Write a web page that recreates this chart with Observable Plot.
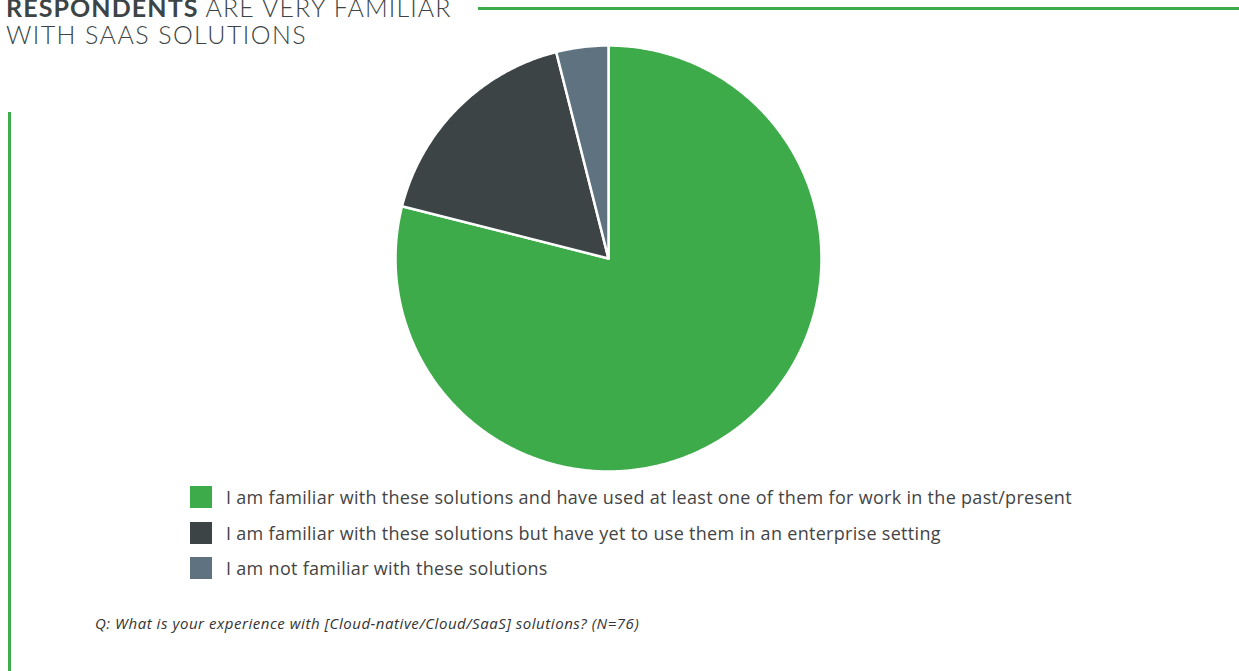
<!DOCTYPE html>
<html>
<head>
<meta charset="utf-8">
<script src="https://cdn.jsdelivr.net/npm/d3@7"></script>
<script src="https://cdn.jsdelivr.net/npm/@observablehq/plot@0.6"></script>
<style>
  html, body { margin: 0; padding: 0; background: #fff; width: 1239px; height: 671px; overflow: hidden; position: relative; }
  #title { position: absolute; left: 6px; top: -6px; font-family: Lato, sans-serif; font-size: 25px; line-height: 27px; color: #3c4446; font-weight: 300; letter-spacing: 1.1px; white-space: nowrap; }
  #title b { font-weight: 700; }
  #title .l2 { letter-spacing: 1.4px; }
  #topline { position: absolute; left: 478px; right: 0; top: 7px; height: 3px; background: #3dab49; }
  #leftline { position: absolute; left: 8px; top: 112px; bottom: 0; width: 3px; background: #3dab49; }
  #chart { position: absolute; left: 0; top: 40px; }
  #legend { position: absolute; left: 190px; top: 486px; font-family: "Open Sans", sans-serif; font-size: 18px; letter-spacing: 0.3px; color: #444; white-space: nowrap; }
  .row { display: flex; align-items: center; height: 22px; margin-bottom: 13.5px; }
  .sw { width: 22px; height: 22px; margin-right: 14px; flex: none; }
  #caption { position: absolute; left: 95px; top: 613px; font-family: "Open Sans", sans-serif; font-style: italic; font-size: 15px; letter-spacing: 0.55px; color: #333; white-space: nowrap; }
</style>
</head>
<body>
<div id="title"><b>RESPONDENTS</b> ARE VERY FAMILIAR<br><span class="l2">WITH SAAS SOLUTIONS</span></div>
<div id="topline"></div>
<div id="leftline"></div>
<div id="chart"></div>
<div id="legend"></div>
<div id="caption">Q: What is your experience with [Cloud-native/Cloud/SaaS] solutions? (N=76)</div>
<script>
const categories = [
  "I am familiar with these solutions and have used at least one of them for work in the past/present",
  "I am familiar with these solutions but have yet to use them in an enterprise setting",
  "I am not familiar with these solutions"
];
const counts = [60, 13, 3];
const colors = ["#3dab49", "#3c4446", "#5f7280"];

// Build slice polygons (clockwise from 12 o'clock) from data
const total = d3.sum(counts);
const pts = [];
let start = 0;
categories.forEach((c, i) => {
  const a0 = start, a1 = start + counts[i] / total * 2 * Math.PI;
  pts.push({cat: c, x: 0, y: 0});
  const n = Math.max(2, Math.ceil((a1 - a0) / (Math.PI / 360)));
  for (let k = 0; k <= n; k++) {
    const a = a0 + (a1 - a0) * k / n;
    pts.push({cat: c, x: Math.sin(a), y: Math.cos(a)});
  }
  start = a1;
});

const cx = 608, cy = 218, r = 213;
const chart = Plot.plot({
  width: 1239,
  height: 440,
  margin: 0,
  x: {domain: [-1, 1], range: [cx - r, cx + r], axis: null},
  y: {domain: [-1, 1], range: [cy + r, cy - r], axis: null},
  color: {domain: categories, range: colors},
  marks: [
    Plot.line(pts, {x: "x", y: "y", z: "cat", fill: "cat", stroke: "white", strokeWidth: 2.5, curve: "linear-closed", strokeLinejoin: "round"})
  ]
});
document.getElementById("chart").appendChild(chart);

const legend = document.getElementById("legend");
categories.forEach((c, i) => {
  const row = document.createElement("div");
  row.className = "row";
  row.innerHTML = `<div class="sw" style="background:${colors[i]}"></div><span>${c}</span>`;
  legend.appendChild(row);
});
</script>
</body>
</html>
